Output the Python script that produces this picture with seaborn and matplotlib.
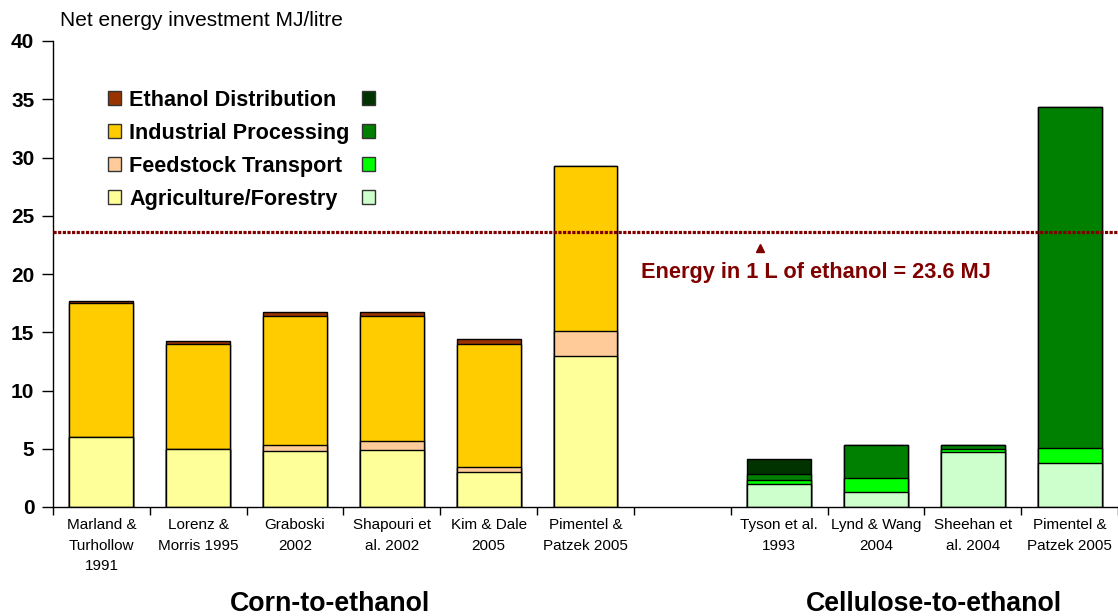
import numpy as np
import pandas as pd
import matplotlib
matplotlib.use("Agg")
import matplotlib.pyplot as plt
from matplotlib.patches import Patch
from matplotlib import font_manager
import seaborn as sns

# ---- data (MJ per litre of ethanol) ----
studies = [
    "Marland & Turhollow 1991", "Lorenz & Morris 1995", "Graboski 2002",
    "Shapouri et al. 2002", "Kim & Dale 2005", "Pimentel & Patzek 2005 (corn)",
    "Tyson et al. 1993", "Lynd & Wang 2004", "Sheehan et al. 2004",
    "Pimentel & Patzek 2005 (cellulose)",
]
feedstock = ["Corn"] * 6 + ["Cellulose"] * 4
tick_labels = [
    "Marland &\nTurhollow\n1991", "Lorenz &\nMorris 1995", "Graboski\n2002",
    "Shapouri et\nal. 2002", "Kim & Dale\n2005", "Pimentel &\nPatzek 2005", "",
    "Tyson et al.\n1993", "Lynd & Wang\n2004", "Sheehan et\nal. 2004",
    "Pimentel &\nPatzek 2005",
]
agriculture = [6.0, 5.0, 4.8, 4.9, 3.0, 13.0, 2.0, 1.3, 4.75, 3.8]
transport = [0.0, 0.0, 0.5, 0.8, 0.4, 2.1, 0.35, 1.2, 0.2, 1.3]
processing = [11.5, 9.0, 11.1, 10.7, 10.6, 14.2, 0.45, 2.85, 0.4, 29.2]
distribution = [0.2, 0.25, 0.3, 0.3, 0.4, 0.0, 1.3, 0.0, 0.0, 0.0]
components = ["Ethanol Distribution", "Industrial Processing",
              "Feedstock Transport", "Agriculture/Forestry"]
corn_colors = ["#993300", "#FFCC00", "#FFCC99", "#FFFF99"]
cellulose_colors = ["#003300", "#008000", "#00FF00", "#CCFFCC"]
energy_per_litre = 23.6

# ---- styling ----
sns.set_theme(style="white")
plt.rcParams["font.family"] = ["Liberation Sans", "DejaVu Sans"]
for key in ("text.color", "axes.labelcolor", "xtick.color", "ytick.color"):
    plt.rcParams[key] = "black"

try:
    font_manager.findfont("Liberation Sans Narrow", fallback_to_default=False)
    tick_font = dict(family=["Liberation Sans Narrow", "Liberation Sans"], size=12.5)
except Exception:
    tick_font = dict(family=["Liberation Sans", "DejaVu Sans"], size=11)

W, H = 1118, 616
fig = plt.figure(figsize=(W / 100, H / 100), dpi=100)
ax = fig.add_axes([53 / W, (H - 507) / H, (W - 53) / W, 466 / H])

df = pd.DataFrame({"study": studies, "feedstock": feedstock})
df["agri"] = np.array(agriculture)
df["trans"] = df["agri"] + np.array(transport)
df["proc"] = df["trans"] + np.array(processing)
df["dist"] = df["proc"] + np.array(distribution)

order = studies[:6] + [" "] + studies[6:]

# stacked bars: draw cumulative totals from the top layer down
for col, idx in [("dist", 0), ("proc", 1), ("trans", 2), ("agri", 3)]:
    sns.barplot(
        data=df, x="study", y=col, hue="feedstock",
        hue_order=["Corn", "Cellulose"],
        palette={"Corn": corn_colors[idx], "Cellulose": cellulose_colors[idx]},
        order=order, dodge=False, width=0.66, saturation=1, errorbar=None,
        edgecolor="black", linewidth=1.0, legend=False, ax=ax,
    )

# axes
ax.set_xlim(-0.5, 10.5)
ax.set_ylim(0, 40)
ax.set_xlabel("")
ax.set_ylabel("")
ax.set_yticks(np.arange(0, 41, 5))
ax.set_yticklabels([str(v) for v in range(0, 41, 5)], fontsize=15, fontweight="bold")
ax.set_xticks(range(11))
ax.set_xticklabels(tick_labels, linespacing=1.6, **tick_font)
ax.set_xticks(np.arange(-0.5, 11, 1), minor=True)
ax.tick_params(axis="x", which="major", bottom=True, length=0, pad=8, colors="black")
ax.tick_params(axis="x", which="minor", bottom=True, length=6, width=1, direction="out", color="black")
ax.tick_params(axis="y", left=True, length=8, width=1, direction="out", pad=5.5, colors="black")
sns.despine(ax=ax)
for s in ("left", "bottom"):
    ax.spines[s].set_color("black")
    ax.spines[s].set_linewidth(1.0)
ax.grid(False)

# reference energy content line with its note
ax.axhline(energy_per_litre, color="#800000", lw=2.3, linestyle=(0, (1, 0.45)),
           dash_capstyle="butt", zorder=6)
ax.plot([6.8], [energy_per_litre - 1.4], marker="^", color="#800000", ms=6, zorder=6)
ax.text(7.38, energy_per_litre - 3.5,
        f"Energy in 1 L of ethanol = {energy_per_litre} MJ",
        color="#800000", fontsize=15.7, fontweight="bold", ha="center", va="center", zorder=6)

# legend: corn swatch, label, cellulose swatch
leg_kw = dict(loc="upper left", bbox_transform=fig.transFigure, frameon=False,
              prop=dict(weight="bold", size=15.6), handlelength=0.6, handleheight=0.6,
              handletextpad=0.37, labelspacing=0.55, borderpad=0, borderaxespad=0)
h_corn = [Patch(facecolor=c, edgecolor="#333333", lw=1) for c in corn_colors]
h_cell = [Patch(facecolor=c, edgecolor="#333333", lw=1) for c in cellulose_colors]
leg1 = ax.legend(h_corn, components, bbox_to_anchor=(108 / W, 1 - 90 / H), **leg_kw)
ax.add_artist(leg1)
ax.legend(h_cell, [""] * 4, bbox_to_anchor=(362 / W, 1 - 90 / H), **leg_kw)

# titles
fig.text(60 / W, 1 - 20 / H, "Net energy investment MJ/litre", fontsize=15,
         ha="left", va="center")
fig.text(330 / W, 1 - 604 / H, "Corn-to-ethanol", fontsize=19.3, fontweight="bold",
         ha="center", va="center")
fig.text(934 / W, 1 - 604 / H, "Cellulose-to-ethanol", fontsize=19.3, fontweight="bold",
         ha="center", va="center")

fig.savefig("out.png", dpi=100)
